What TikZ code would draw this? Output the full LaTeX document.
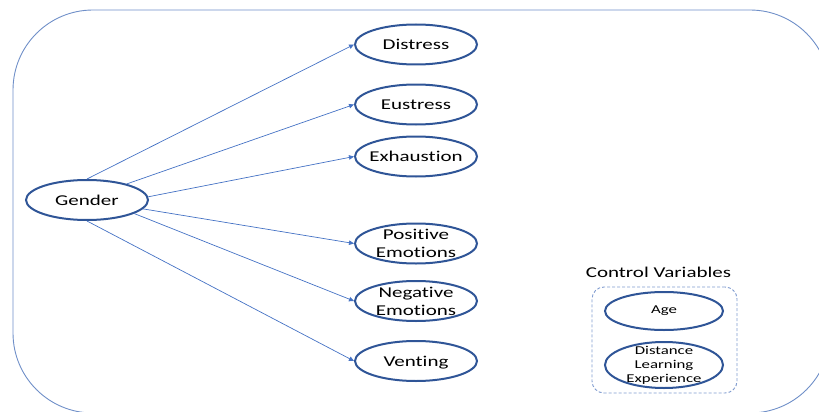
\documentclass[tikz,border=0pt]{standalone}
\usepackage{fontspec}
\setmainfont{Carlito}
\newfontfamily\widefont[FakeStretch=1.4,Ligatures=NoCommon]{Carlito}
\usetikzlibrary{shapes.geometric,arrows.meta}
\definecolor{ellblue}{HTML}{2F5597}
\definecolor{arrblue}{HTML}{4472C4}
\definecolor{frameblue}{HTML}{6F8FC8}
\definecolor{dashblue}{HTML}{7F9BCF}
\tikzset{
  ell/.style={ellipse, draw=ellblue, line width=2pt, minimum width=122pt, minimum height=40pt, inner sep=0pt},
  smallell/.style={ellipse, draw=ellblue, line width=2pt, minimum width=118pt, inner sep=0pt},
  bigtxt/.style={font=\widefont\fontsize{15}{18}\selectfont, align=center, text=black},
  smalltxt/.style={font=\widefont\fontsize{12}{14}\selectfont, align=center, text=black},
  conn/.style={draw=arrblue, line width=0.7pt, -{Triangle[length=5pt,width=4.5pt]}},
}
\begin{document}
\begin{tikzpicture}[x=1pt,y=-1pt]
\useasboundingbox (0,0) rectangle (819,412);
\clip (0,0) rectangle (819,412);
% outer frame
\draw[frameblue, line width=0.9pt, rounded corners=80pt] (13,10) rectangle (830,413);
% nodes
\node[ell, label={[bigtxt]center:Gender}] (gender) at (87,200) {};
\node[ell, label={[bigtxt]center:Distress}] (distress) at (416,44.5) {};
\node[ell, label={[bigtxt]center:Eustress}] (eustress) at (416,104.5) {};
\node[ell, label={[bigtxt]center:Exhaustion}] (exhaustion) at (416,156.5) {};
\node[ell, label={[bigtxt]center:Positive\\Emotions}] (positive) at (416,243.5) {};
\node[ell, label={[bigtxt]center:Negative\\Emotions}] (negative) at (416,301) {};
\node[ell, label={[bigtxt, yshift=-2pt]center:Venting}] (venting) at (416,361) {};
% control variables
\node[bigtxt] (cvtitle) at (658.5,272) {Control Variables};
\node[draw=dashblue, line width=0.9pt, dash pattern=on 3pt off 2pt, rounded corners=12pt,
      minimum width=145pt, minimum height=106pt, inner sep=0pt] (cvbox) at (664.5,340) {};
\node[smallell, minimum height=38pt, label={[smalltxt]center:Age}] (age) at (664,311) {};
\node[smallell, minimum height=46pt, label={[smalltxt]center:Distance\\Learning\\Experience}] (dle) at (664,365) {};
% connectors
\draw[conn] (gender.north) -- (distress.west);
\draw[conn] (gender.22) -- (eustress.west);
\draw[conn] (gender.3) -- (exhaustion.west);
\draw[conn] (gender.-9) -- (positive.west);
\draw[conn] (gender.-16) -- (negative.west);
\draw[conn] (gender.south) -- (venting.west);
\end{tikzpicture}
\end{document}
